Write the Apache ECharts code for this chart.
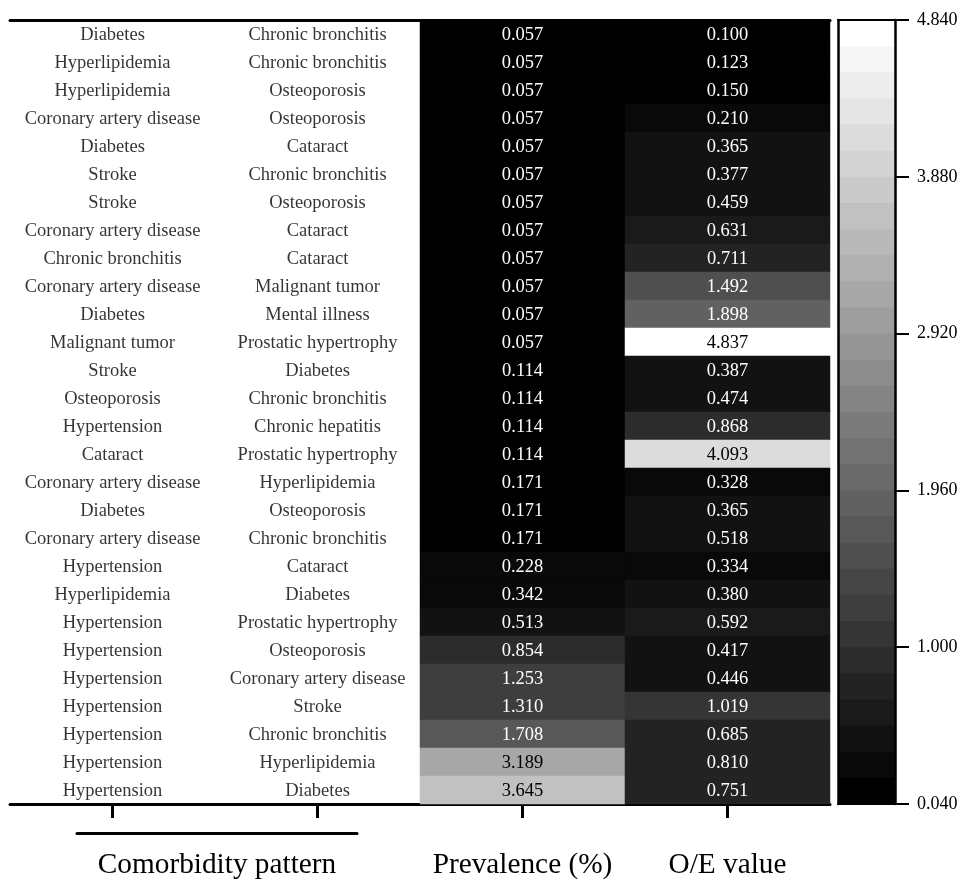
<!DOCTYPE html>
<html>
<head>
<meta charset="utf-8">
<script src="https://cdn.jsdelivr.net/npm/echarts@6/dist/echarts.min.js"></script>
<style>
html,body{margin:0;padding:0;background:#fff;}
#chart{width:972px;height:880px;}
</style>
</head>
<body>
<div id="chart"></div>
<script>
// ---- data ----
const disease1 = ['Diabetes','Hyperlipidemia','Hyperlipidemia','Coronary artery disease','Diabetes','Stroke','Stroke','Coronary artery disease','Chronic bronchitis','Coronary artery disease','Diabetes','Malignant tumor','Stroke','Osteoporosis','Hypertension','Cataract','Coronary artery disease','Diabetes','Coronary artery disease','Hypertension','Hyperlipidemia','Hypertension','Hypertension','Hypertension','Hypertension','Hypertension','Hypertension','Hypertension'];
const disease2 = ['Chronic bronchitis','Chronic bronchitis','Osteoporosis','Osteoporosis','Cataract','Chronic bronchitis','Osteoporosis','Cataract','Cataract','Malignant tumor','Mental illness','Prostatic hypertrophy','Diabetes','Chronic bronchitis','Chronic hepatitis','Prostatic hypertrophy','Hyperlipidemia','Osteoporosis','Chronic bronchitis','Cataract','Diabetes','Prostatic hypertrophy','Osteoporosis','Coronary artery disease','Stroke','Chronic bronchitis','Hyperlipidemia','Diabetes'];
const prevalence = [0.057,0.057,0.057,0.057,0.057,0.057,0.057,0.057,0.057,0.057,0.057,0.057,0.114,0.114,0.114,0.114,0.171,0.171,0.171,0.228,0.342,0.513,0.854,1.253,1.310,1.708,3.189,3.645];
const oeValue = [0.100,0.123,0.150,0.210,0.365,0.377,0.459,0.631,0.711,1.492,1.898,4.837,0.387,0.474,0.868,4.093,0.328,0.365,0.518,0.334,0.380,0.592,0.417,0.446,1.019,0.685,0.810,0.751];
const columnNames = ['Disease 1','Disease 2','Prevalence (%)','O/E value'];
const groupLabel = ['Comorbidity pattern'];
const colorbarTicks = ['0.040','1.000','1.960','2.920','3.880','4.840'];
const scaleMin = 0.04, scaleMax = 4.84, scaleSteps = 30;

// ---- build ----
const FONT = 'Liberation Serif';
const rows = disease1.map((d, i) => String(i));
function cell(x, y, v) {
  return { value: [x, y, v], label: { color: v > 2.5 ? '#000' : '#fff' } };
}
const heatData = [];
prevalence.forEach((v, i) => heatData.push(cell(2, i, v)));
oeValue.forEach((v, i) => heatData.push(cell(3, i, v)));
const textData = [];
disease1.forEach((d, i) => textData.push({ value: [0, i], name: d }));
disease2.forEach((d, i) => textData.push({ value: [1, i], name: d }));

const barH = 784 / scaleSteps;
const chart = echarts.init(document.getElementById('chart'));
chart.setOption({
  backgroundColor: '#fff',
  animation: false,
  textStyle: { fontFamily: FONT },
  grid: [
    { left: 10, width: 820, top: 20, height: 784 },
    { left: 838, width: 57, top: 20, height: 784 },
    { left: 77, width: 280, top: 833, height: 1 }
  ],
  xAxis: [
    {
      gridIndex: 0, type: 'category', data: columnNames, position: 'bottom',
      axisLine: { lineStyle: { color: '#000', width: 3 } },
      axisTick: { show: true, interval: 0, alignWithLabel: true, length: 14, lineStyle: { color: '#000', width: 3 } },
      axisLabel: {
        interval: 0, hideOverlap: false,
        margin: 61, verticalAlign: 'middle', fontSize: 29.3, color: '#000', fontFamily: FONT,
        formatter: (v, idx) => (idx >= 2 ? v : '')
      },
      splitLine: { show: false }
    },
    {
      gridIndex: 0, type: 'category', data: columnNames, position: 'top',
      axisLine: { lineStyle: { color: '#000', width: 3 } },
      axisTick: { show: false }, axisLabel: { show: false }, splitLine: { show: false }
    },
    {
      gridIndex: 1, type: 'category', data: [''], position: 'top', z: 10,
      axisLine: { lineStyle: { color: '#000', width: 2 } },
      axisTick: { show: false }, axisLabel: { show: false }
    },
    {
      gridIndex: 1, type: 'category', data: [''], position: 'bottom', z: 10,
      axisLine: { lineStyle: { color: '#000', width: 2 } },
      axisTick: { show: false }, axisLabel: { show: false }
    },
    {
      gridIndex: 2, type: 'category', data: groupLabel, position: 'bottom',
      axisLine: { lineStyle: { color: '#000', width: 3 } },
      axisTick: { show: false },
      axisLabel: { margin: 32, verticalAlign: 'middle', fontSize: 29.3, color: '#000', fontFamily: FONT }
    }
  ],
  yAxis: [
    { gridIndex: 0, type: 'category', data: rows, inverse: true, show: false },
    {
      gridIndex: 1, type: 'category', data: colorbarTicks, boundaryGap: false, position: 'right', z: 10,
      axisLine: { lineStyle: { color: '#000', width: 2.5 } },
      axisTick: { show: true, interval: 0, length: 14, lineStyle: { color: '#000', width: 2 } },
      axisLabel: { interval: 0, margin: 22, fontSize: 18, color: '#000', fontFamily: FONT },
      splitLine: { show: false }
    },
    {
      gridIndex: 1, type: 'category', data: colorbarTicks, boundaryGap: false, position: 'left', z: 10,
      axisLine: { lineStyle: { color: '#000', width: 2.5 } },
      axisTick: { show: false }, axisLabel: { show: false }, splitLine: { show: false }
    },
    { gridIndex: 2, type: 'value', show: false }
  ],
  visualMap: {
    type: 'piecewise',
    min: scaleMin, max: scaleMax, splitNumber: scaleSteps,
    dimension: 2, seriesIndex: 0,
    inRange: { color: ['#000000', '#ffffff'] },
    orient: 'vertical', left: 838, top: 20, padding: 0,
    itemWidth: 57, itemHeight: barH + 1, itemGap: -1,
    itemSymbol: 'rect', showLabel: false, hoverLink: false, selectedMode: false
  },
  series: [
    {
      type: 'heatmap', xAxisIndex: 0, yAxisIndex: 0, data: heatData,
      label: {
        show: true, fontSize: 18.5, fontFamily: FONT, offset: [0, 1],
        formatter: p => p.value[2].toFixed(3)
      },
      emphasis: { disabled: true }
    },
    {
      type: 'scatter', xAxisIndex: 0, yAxisIndex: 0, data: textData,
      symbol: 'rect', symbolSize: 1, itemStyle: { color: 'rgba(0,0,0,0)' },
      label: { show: true, position: 'inside', offset: [0, 1], formatter: '{b}', color: '#000', fontSize: 18.5, fontFamily: FONT },
      emphasis: { disabled: true }
    }
  ]
});
</script>
</body>
</html>
